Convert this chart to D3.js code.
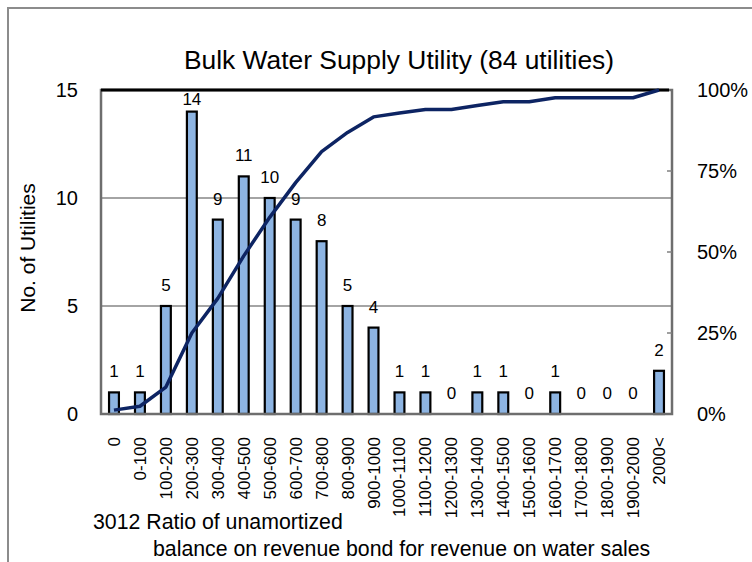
<!DOCTYPE html>
<html>
<head>
<meta charset="utf-8">
<script src="https://cdn.jsdelivr.net/npm/d3@7"></script>
<style>
  html, body { margin: 0; padding: 0; background: #fff; }
  svg { display: block; font-family: "Liberation Sans", Arial, sans-serif; }
</style>
</head>
<body>
<svg id="chart" width="752" height="562"></svg>
<script>
const categories = ["0","0-100","100-200","200-300","300-400","400-500","500-600","600-700","700-800","800-900","900-1000","1000-1100","1100-1200","1200-1300","1300-1400","1400-1500","1500-1600","1600-1700","1700-1800","1800-1900","1900-2000","2000<"];
const counts = [1,1,5,14,9,11,10,9,8,5,4,1,1,0,1,1,0,1,0,0,0,2];
const cumulativePct = [1.2,2.4,8.3,25.0,35.7,48.8,60.7,71.4,81.0,86.9,91.7,92.9,94.0,94.0,95.2,96.4,96.4,97.6,97.6,97.6,97.6,100];
const leftTicks = [0,5,10,15];
const rightTicks = [0,25,50,75,100];
const title = "Bulk Water Supply Utility (84 utilities)";
const yTitle = "No. of Utilities";
const xTitleLines = ["3012 Ratio of unamortized", "balance on revenue bond for revenue on water sales"];

const svg = d3.select("#chart");
const plot = {left: 101, right: 672, top: 90, bottom: 414};

// outer frame
svg.append("rect").attr("x", 8).attr("y", 8).attr("width", 780).attr("height", 600)
  .attr("fill", "#fff").attr("stroke", "#8c8c8c").attr("stroke-width", 2);

const x = d3.scaleBand().domain(categories).range([plot.left, plot.right]).padding(0);
const y = d3.scaleLinear().domain([0, 15]).range([plot.bottom, plot.top]);
const y2 = d3.scaleLinear().domain([0, 100]).range([plot.bottom, plot.top]);

// gridlines
svg.append("g").selectAll("line").data(leftTicks.filter(t => t > 0 && t < 15)).join("line")
  .attr("x1", plot.left).attr("x2", plot.right)
  .attr("y1", d => y(d)).attr("y2", d => y(d))
  .attr("stroke", "#868686").attr("stroke-width", 1.5);

const barData = counts.map((v, i) => ({c: categories[i], v}));

// bars
const bw = x.bandwidth() * 0.38;
svg.append("g").selectAll("rect").data(barData.filter(d => d.v > 0)).join("rect")
  .attr("x", d => x(d.c) + x.bandwidth() / 2 - bw / 2)
  .attr("y", d => y(d.v))
  .attr("width", bw)
  .attr("height", d => y(0) - y(d.v))
  .attr("fill", "#8DB4E2")
  .attr("stroke", "#000")
  .attr("stroke-width", 2.2);

// plot border
svg.append("rect").attr("x", plot.left).attr("y", plot.top)
  .attr("width", plot.right - plot.left).attr("height", plot.bottom - plot.top)
  .attr("fill", "none").attr("stroke", "#6e6e6e").attr("stroke-width", 2.5);
// top (15) line black
svg.append("line").attr("x1", plot.left).attr("x2", plot.right - 3)
  .attr("y1", y(15)).attr("y2", y(15)).attr("stroke", "#000").attr("stroke-width", 3);

// right axis inner ticks
svg.append("g").selectAll("line").data(rightTicks.filter(t => t > 0 && t < 100)).join("line")
  .attr("x1", plot.right - 5).attr("x2", plot.right)
  .attr("y1", d => y2(d)).attr("y2", d => y2(d))
  .attr("stroke", "#808080").attr("stroke-width", 1.5);

// data labels
svg.append("g").selectAll("text").data(barData).join("text")
  .attr("x", d => x(d.c) + x.bandwidth() / 2)
  .attr("y", d => Math.max(y(d.v) - 15, plot.top + 15))
  .attr("text-anchor", "middle")
  .attr("font-size", 17)
  .attr("fill", "#000")
  .text(d => d.v);

// cumulative line
const line = d3.line()
  .x((d, i) => x(categories[i]) + x.bandwidth() / 2)
  .y(d => y2(d));
svg.append("path").datum(cumulativePct)
  .attr("d", line)
  .attr("fill", "none")
  .attr("stroke", "#0D2463")
  .attr("stroke-width", 3.5)
  .attr("stroke-linejoin", "round");

// left axis labels
svg.append("g").selectAll("text").data(leftTicks).join("text")
  .attr("x", 78).attr("y", d => y(d)).attr("dy", "0.35em")
  .attr("text-anchor", "end").attr("font-size", 20).text(d => d);

// right axis labels
svg.append("g").selectAll("text").data(rightTicks).join("text")
  .attr("x", 697).attr("y", d => y2(d)).attr("dy", "0.35em")
  .attr("text-anchor", "start").attr("font-size", 20).text(d => d + "%");

// x labels
svg.append("g").selectAll("text").data(categories).join("text")
  .attr("transform", d => `translate(${x(d) + x.bandwidth() / 2 + 6},437) rotate(-90)`)
  .attr("text-anchor", "end").attr("font-size", 17).text(d => d);

// title
svg.append("text").attr("x", 399).attr("y", 69).attr("text-anchor", "middle")
  .attr("font-size", 26.4).text(title);

// y title
svg.append("text").attr("transform", "translate(35,248) rotate(-90)")
  .attr("text-anchor", "middle").attr("font-size", 21).text(yTitle);

// x title
svg.append("text").attr("x", 93).attr("y", 529).attr("font-size", 21.3).text(xTitleLines[0]);
svg.append("text").attr("x", 153).attr("y", 556).attr("font-size", 21.3).text(xTitleLines[1]);
</script>
</body>
</html>
